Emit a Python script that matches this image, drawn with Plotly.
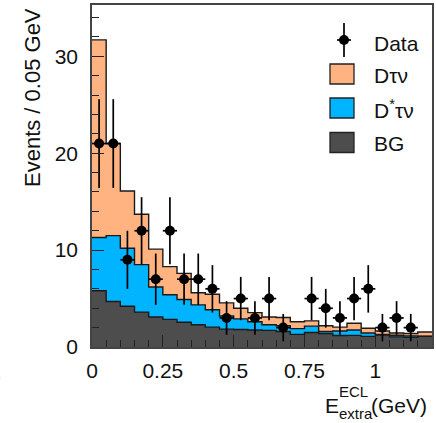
import numpy as np
import plotly.graph_objects as go

# ---------------- data ----------------
bin_width = 0.05
bin_low_edges = [0.00, 0.05, 0.10, 0.15, 0.20, 0.25, 0.30, 0.35, 0.40, 0.45, 0.50, 0.55,
                 0.60, 0.65, 0.70, 0.75, 0.80, 0.85, 0.90, 0.95, 1.00, 1.05, 1.10, 1.15]

bg_counts = [5.8, 4.7, 4.2, 3.6, 3.1, 2.85, 2.55, 2.3, 2.05, 1.85, 1.8, 1.76,
             1.72, 1.6, 1.3, 1.5, 1.4, 1.18, 1.2, 1.1, 1.24, 1.05, 1.0, 1.1]
dstartaunu_counts = [5.5, 6.8, 6.0, 4.9, 3.1, 2.55, 2.35, 2.05, 1.8, 1.35, 1.1, 0.84,
                     0.58, 0.6, 0.6, 0.65, 0.2, 0.47, 0.55, 0.35, 0.06, 0.17, 0.15, 0.02]
dtaunu_counts = [20.4, 9.5, 5.9, 5.2, 3.9, 2.9, 2.7, 1.25, 1.6, 1.35, 1.1, 0.95,
                 0.8, 0.85, 0.7, 0.55, 0.6, 0.4, 0.7, 0.48, 0.35, 0.23, 0.25, 0.43]

data_counts = [21, 21, 9, 12, 7, 12, 7, 7, 6, 3, 5, 3,
               5, 2, None, 5, 4, 3, 5, 6, 2, 3, 2, None]

x_tick_vals = [0, 0.25, 0.5, 0.75, 1]
x_tick_text = ["0", "0.25", "0.5", "0.75", "1"]
y_tick_vals = [0, 10, 20, 30]
y_tick_text = ["0", "10", "20", "30"]

legend_labels = ["Data", "Dτν", "D<sup>*</sup>τν", "BG"]

# ---------------- styles ----------------
C_DTAU = "#FFB380"
C_DSTAR = "#00B4FF"
C_BG = "#4D4D4D"
C_LINE = "#1a1a1a"
FONT = "Liberation Sans, Arial, sans-serif"

W, H = 436, 423
ML, MR, MT, MB = 92, 4, 5, 76
PW, PH = W - ML - MR, H - MT - MB


def px2paper(x, y):
    return (x - ML) / PW, 1 - (y - MT) / PH


lo = np.array(bin_low_edges)
edges = np.append(lo, lo[-1] + bin_width)
centers = lo + bin_width / 2

bg = np.array(bg_counts)
ds = np.array(dstartaunu_counts)
dt = np.array(dtaunu_counts)
stack_bg = bg
stack_ds = bg + ds
stack_dt = bg + ds + dt

fig = go.Figure()
for tops, col in [(stack_dt, C_DTAU), (stack_ds, C_DSTAR), (stack_bg, C_BG)]:
    fig.add_trace(go.Scatter(
        x=edges, y=np.append(tops, tops[-1]), mode="lines", line_shape="hv",
        fill="tozeroy", fillcolor=col, line=dict(color=C_LINE, width=1.4),
        hoverinfo="skip", showlegend=False))

dc = np.array([np.nan if v is None else v for v in data_counts], dtype=float)
fig.add_trace(go.Scatter(
    x=centers, y=dc, mode="markers",
    marker=dict(color="black", size=10, symbol="circle"),
    error_y=dict(type="data", array=np.sqrt(np.nan_to_num(dc)), width=0, thickness=1.7, color="black"),
    error_x=dict(type="constant", value=bin_width / 2, width=0, thickness=1.7, color="black"),
    showlegend=False))

axis_common = dict(showline=True, mirror=True, linecolor="#444", linewidth=1.6,
                   ticks="inside", tickcolor="#222", tickwidth=1.2, zeroline=False,
                   showgrid=False, automargin=False,
                   tickfont=dict(family=FONT, size=21, color="#111"))

fig.update_xaxes(range=[0, 1.2], tickmode="array", tickvals=x_tick_vals, ticktext=x_tick_text,
                 ticklen=12, ticklabelstandoff=4,
                 minor=dict(ticks="inside", ticklen=7, tickmode="linear", tick0=0, dtick=0.05,
                            tickcolor="#222", tickwidth=1.2),
                 **axis_common)
fig.update_yaxes(range=[0, 35.3], tickmode="array", tickvals=y_tick_vals, ticktext=y_tick_text,
                 ticklen=12, ticklabelstandoff=8,
                 minor=dict(ticks="inside", ticklen=7, tickmode="linear", tick0=0, dtick=2,
                            tickcolor="#222", tickwidth=1.2),
                 **axis_common)

shapes = []
annotations = []


def add_text(text, x, y, size, xanchor="left", yanchor="middle", angle=0):
    xp, yp = px2paper(x, y)
    annotations.append(dict(text=text, x=xp, y=yp, xref="paper", yref="paper",
                            xanchor=xanchor, yanchor=yanchor, showarrow=False, textangle=angle,
                            font=dict(family=FONT, size=size, color="#111")))


# legend: Data symbol
x0, y0 = px2paper(344, 23)
x1, y1 = px2paper(344, 57)
shapes.append(dict(type="line", xref="paper", yref="paper", x0=x0, y0=y0, x1=x1, y1=y1,
                   line=dict(color="black", width=1.7)))
x0, y0 = px2paper(337, 40)
x1, y1 = px2paper(351, 40)
shapes.append(dict(type="line", xref="paper", yref="paper", x0=x0, y0=y0, x1=x1, y1=y1,
                   line=dict(color="black", width=1.7)))
x0, y0 = px2paper(339, 35)
x1, y1 = px2paper(349, 45)
shapes.append(dict(type="circle", xref="paper", yref="paper", x0=x0, y0=y0, x1=x1, y1=y1,
                   fillcolor="black", line=dict(color="black", width=0)))
add_text(legend_labels[0], 372, 43, 21)

for i, (col, yc) in enumerate([(C_DTAU, 74), (C_DSTAR, 108), (C_BG, 142.5)]):
    x0, y0 = px2paper(330, yc - 10)
    x1, y1 = px2paper(354, yc + 10)
    shapes.append(dict(type="rect", xref="paper", yref="paper", x0=x0, y0=y0, x1=x1, y1=y1,
                       fillcolor=col, line=dict(color="#222", width=1.3)))
    add_text(legend_labels[i + 1], 372, yc + 1, 21)

# axis titles
add_text("Events / 0.05 GeV", 32, 97, 22, xanchor="center", yanchor="middle", angle=-90)
add_text("E", 322.5, 405, 21)
add_text("extra", 336.5, 413, 15)
add_text("ECL", 336.5, 391, 15)
add_text("(GeV)", 368.5, 405, 21)
# clipped label from neighbouring panel at the left edge
add_text("3", 3, 374, 21, xanchor="right")

fig.update_layout(width=W, height=H, margin=dict(l=ML, r=MR, t=MT, b=MB, autoexpand=False),
                  plot_bgcolor="white", paper_bgcolor="white", showlegend=False,
                  shapes=shapes, annotations=annotations)

fig.write_html("out.html", config={"displayModeBar": False},
               post_script="document.body.style.margin='0';document.body.style.padding='0';"
                           "document.body.style.overflow='hidden';")
